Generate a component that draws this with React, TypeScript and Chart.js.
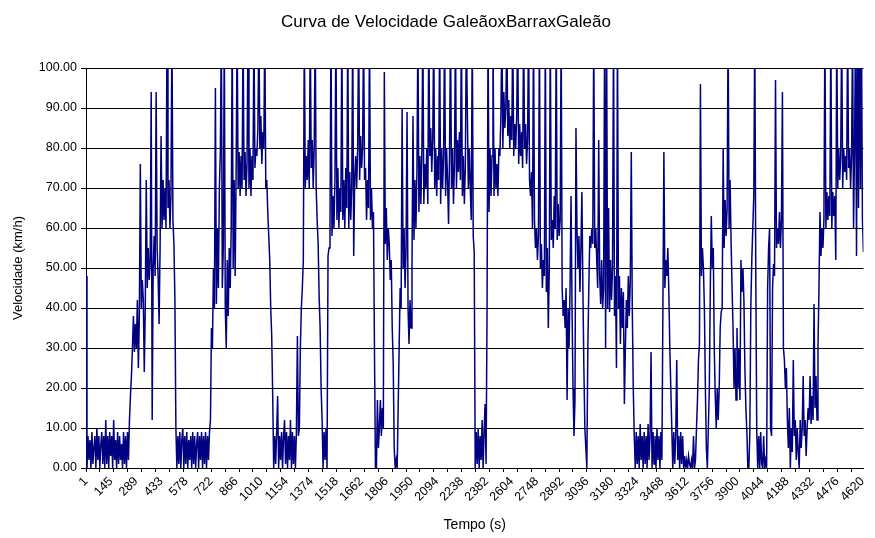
import { useEffect, useRef } from 'react';
import { Chart, registerables } from 'chart.js';

Chart.register(...registerables);

const chartTitle = 'Curva de Velocidade GaleãoxBarraxGaleão';
const xTitle = 'Tempo (s)';
const yTitle = 'Velocidade (km/h)';

// category labels shown on the time axis (one every 144 samples)
const tickLabels = [
  '1', '145', '289', '433', '578', '722', '866', '1010', '1154', '1374', '1518',
  '1662', '1806', '1950', '2094', '2238', '2382', '2604', '2748', '2892', '3036',
  '3180', '3324', '3468', '3612', '3756', '3900', '4044', '4188', '4332', '4476', '4620',
];
const labelInterval = 144;
const tickMarkInterval = 80;
const xMax = 4470;

const yMin = 0;
const yMax = 100;
const yStep = 10;

// speed (km/h), evenly spread over the time axis
const speed = [
  48, 0, 8, 2, 7, 0, 9, 1, 5, 8, 0, 10, 2, 8, 0, 6, 9, 1, 8, 0,
  12, 1, 8, 0, 9, 3, 8, 0, 12, 2, 7, 0, 9, 1, 8, 2, 6, 0, 9, 1,
  8, 0, 9, 2, 12, 18, 23, 30, 38, 29, 36, 30, 42, 25, 38, 76, 40, 47, 42, 24,
  40, 72, 45, 55, 47, 52, 94, 12, 50, 58, 48, 94, 55, 48, 36, 55, 83, 60, 72, 62,
  70, 60, 110, 65, 72, 60, 68, 110, 62, 56, 42, 10, 0, 8, 1, 9, 0, 7, 10, 0,
  8, 1, 9, 0, 7, 2, 8, 0, 9, 1, 8, 0, 6, 9, 0, 8, 2, 9, 0, 8,
  1, 9, 0, 8, 2, 9, 12, 35, 30, 50, 40, 95, 41, 60, 45, 70, 79, 110, 45, 55,
  110, 40, 30, 52, 38, 55, 45, 60, 110, 50, 72, 48, 75, 110, 70, 79, 68, 78, 70, 110,
  72, 79, 68, 76, 110, 70, 80, 68, 78, 72, 110, 75, 80, 78, 85, 110, 80, 88, 76, 84,
  80, 110, 70, 72, 64, 58, 52, 40, 33, 18, 0, 8, 1, 9, 18, 0, 8, 2, 9, 0,
  8, 12, 1, 9, 0, 8, 2, 12, 0, 9, 1, 8, 0, 9, 33, 8, 10, 30, 40, 45,
  52, 110, 70, 78, 72, 82, 70, 110, 75, 82, 70, 80, 110, 70, 62, 56, 43, 35, 20, 12,
  0, 9, 2, 10, 0, 53, 55, 60, 110, 58, 68, 60, 72, 110, 62, 75, 60, 70, 64, 110,
  62, 72, 60, 75, 65, 110, 60, 74, 62, 70, 110, 53, 72, 78, 70, 80, 110, 72, 83, 75,
  80, 110, 72, 75, 62, 72, 65, 110, 62, 70, 60, 64, 30, 0, 0, 17, 5, 10, 17, 8,
  15, 10, 99, 56, 65, 52, 60, 56, 47, 52, 35, 26, 5, 0, 2, 0, 15, 30, 45, 40,
  90, 50, 60, 45, 55, 89, 40, 31, 42, 35, 50, 88, 57, 72, 60, 74, 110, 64, 78, 66,
  79, 110, 66, 76, 70, 80, 66, 110, 78, 85, 74, 82, 110, 70, 80, 68, 78, 72, 110, 66,
  80, 70, 78, 110, 68, 80, 72, 61, 78, 110, 70, 80, 66, 76, 110, 70, 82, 74, 84, 72,
  110, 68, 78, 66, 75, 110, 90, 70, 80, 70, 62, 110, 58, 54, 0, 9, 1, 10, 0, 8,
  2, 12, 0, 9, 16, 1, 40, 110, 64, 80, 68, 78, 110, 68, 80, 70, 76, 68, 80, 78,
  88, 110, 80, 94, 85, 90, 110, 83, 92, 80, 88, 82, 110, 78, 86, 80, 88, 110, 76, 86,
  78, 84, 75, 110, 80, 86, 76, 82, 110, 72, 68, 74, 60, 110, 62, 55, 60, 52, 58, 110,
  50, 56, 45, 52, 48, 110, 44, 55, 35, 50, 110, 57, 62, 55, 68, 60, 110, 57, 66, 58,
  62, 110, 45, 38, 42, 35, 45, 17, 40, 30, 45, 68, 40, 20, 8, 17, 85, 60, 50, 58,
  44, 55, 69, 45, 25, 10, 5, 0, 30, 45, 58, 55, 60, 56, 110, 55, 60, 52, 45, 82,
  48, 41, 52, 40, 45, 110, 30, 110, 40, 65, 39, 52, 42, 50, 110, 38, 48, 25, 110, 40,
  48, 31, 45, 35, 44, 16, 30, 42, 35, 48, 38, 47, 79, 40, 20, 8, 0, 9, 1, 8,
  0, 11, 2, 8, 0, 9, 1, 8, 0, 11, 2, 8, 29, 0, 9, 1, 8, 0, 10, 2,
  8, 0, 9, 2, 40, 79, 45, 52, 48, 55, 44, 30, 20, 10, 0, 9, 1, 8, 27, 2,
  8, 0, 9, 1, 8, 0, 3, 0, 2, 0, 3, 1, 0, 2, 0, 8, 0, 2, 10, 17,
  27, 31, 96, 48, 55, 50, 40, 20, 5, 0, 10, 20, 45, 63, 50, 55, 30, 18, 10, 20,
  12, 20, 35, 39, 40, 80, 55, 67, 58, 65, 110, 60, 72, 57, 45, 35, 20, 30, 17, 35,
  20, 30, 17, 52, 44, 50, 42, 25, 15, 9, 0, 0, 9, 40, 52, 60, 68, 110, 50, 9,
  0, 8, 0, 9, 1, 0, 8, 0, 2, 0, 45, 55, 60, 10, 8, 45, 51, 48, 97, 55,
  60, 56, 64, 55, 62, 94, 30, 27, 20, 25, 12, 5, 15, 0, 10, 4, 27, 8, 12, 2,
  10, 4, 0, 12, 5, 10, 23, 8, 12, 3, 10, 15, 12, 23, 11, 18, 12, 41, 15, 23,
  12, 30, 45, 64, 53, 60, 55, 62, 110, 60, 69, 62, 68, 63, 110, 60, 69, 63, 68, 52,
  110, 70, 80, 72, 78, 110, 70, 80, 74, 78, 72, 110, 75, 80, 70, 78, 110, 60, 80, 110,
  53, 110, 65, 110, 70, 110, 62, 54,
];

const FONT = '"Liberation Sans", Arial, sans-serif';

const titlePlugin = {
  id: 'customTitle',
  afterDraw(chart: any) {
    const ctx = chart.ctx;
    ctx.save();
    ctx.font = `17px ${FONT}`;
    ctx.fillStyle = '#000';
    ctx.textAlign = 'center';
    ctx.textBaseline = 'alphabetic';
    ctx.fillText(chartTitle, 446, 27);
    ctx.restore();
  },
};

export default function App() {
  const ref = useRef<HTMLCanvasElement>(null);

  useEffect(() => {
    document.body.style.margin = '0';
    const sampleStep = xMax / (speed.length - 1);
    const points = speed.map((v, i) => ({ x: i * sampleStep, y: v }));
    const labelAt = new Map<number, string>();
    tickLabels.forEach((l, k) => labelAt.set(k * labelInterval, l));

    const chart = new Chart(ref.current as HTMLCanvasElement, {
      type: 'line',
      data: {
        datasets: [
          {
            data: points,
            borderColor: '#000080',
            borderWidth: 1.5,
            pointRadius: 0,
            fill: false,
            tension: 0,
          },
        ],
      },
      options: {
        animation: false,
        responsive: false,
        layout: { padding: { top: 68, right: 2, left: 0, bottom: 0 } },
        plugins: {
          legend: { display: false },
          title: { display: false },
          tooltip: { enabled: false },
        },
        scales: {
          x: {
            type: 'linear',
            min: 0,
            max: xMax,
            afterBuildTicks: (axis: any) => {
              const vals = new Set<number>();
              for (let v = 0; v <= xMax; v += tickMarkInterval) vals.add(v);
              tickLabels.forEach((_, k) => vals.add(k * labelInterval));
              axis.ticks = Array.from(vals)
                .sort((a, b) => a - b)
                .map((v) => ({ value: v }));
            },
            afterFit: (axis: any) => {
              axis.height = 70;
            },
            grid: {
              drawOnChartArea: false,
              drawTicks: true,
              tickLength: 4,
              tickColor: (ctx: any) =>
                ctx.tick && ctx.tick.value % tickMarkInterval === 0 ? '#000' : 'rgba(0,0,0,0)',
            },
            border: { color: '#000', width: 1 },
            ticks: {
              autoSkip: false,
              maxRotation: 45,
              minRotation: 45,
              color: '#000',
              padding: 2,
              font: { family: FONT, size: 12.5 },
              callback: (value: any) => labelAt.get(Number(value)) ?? '',
            },
            title: {
              display: true,
              text: xTitle,
              color: '#000',
              font: { family: FONT, size: 14 },
              padding: { top: 0, bottom: 4 },
            },
          },
          y: {
            min: yMin,
            max: yMax,
            afterFit: (axis: any) => {
              axis.width = 86;
            },
            ticks: {
              stepSize: yStep,
              color: '#000',
              padding: 4,
              font: { family: FONT, size: 12.5 },
              callback: (v: any) => Number(v).toFixed(2),
            },
            grid: { color: '#000', lineWidth: 1, tickLength: 5, tickColor: '#000' },
            border: { color: '#000', width: 1 },
            title: {
              display: true,
              text: yTitle,
              color: '#000',
              font: { family: FONT, size: 13 },
              padding: { top: 11, bottom: 0 },
            },
          },
        },
      },
      plugins: [titlePlugin],
    } as any);

    return () => chart.destroy();
  }, []);

  return (
    <div style={{ width: 875, height: 538 }}>
      <canvas ref={ref} width={875} height={538} style={{ display: 'block' }} />
    </div>
  );
}
